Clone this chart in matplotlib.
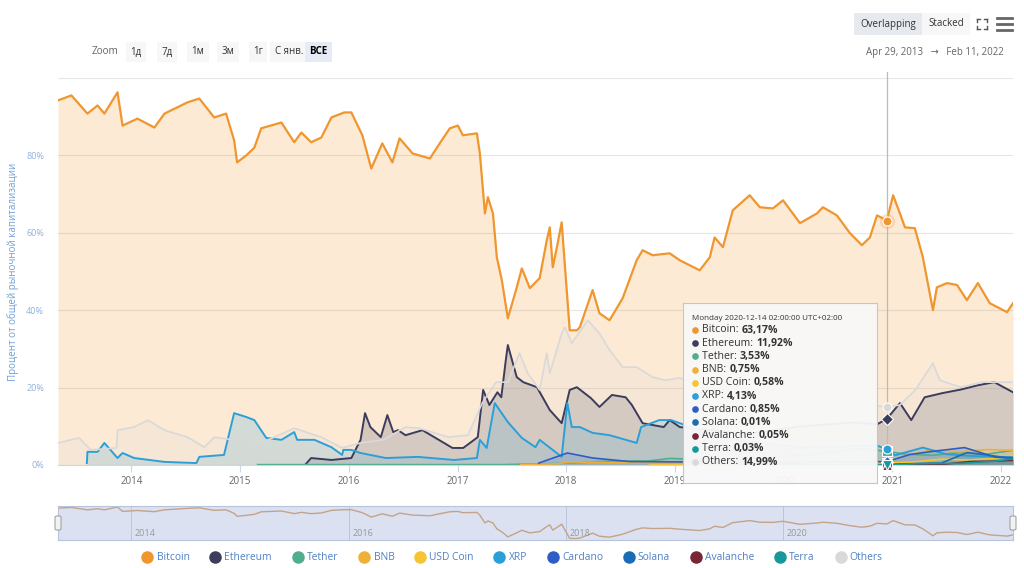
import matplotlib
matplotlib.use('Agg')
import matplotlib.pyplot as plt
import matplotlib.dates as mdates
from matplotlib.lines import Line2D
from matplotlib.patches import FancyBboxPatch
import pandas as pd

plt.rcParams['font.family'] = ['Open Sans', 'DejaVu Sans']

# ---- data (share of total market cap, %) ----
btc_dates = ['2013-04-29', '2013-06-13', '2013-08-06', '2013-09-09', '2013-10-02', '2013-11-15',
             '2013-12-02', '2014-01-21', '2014-03-19', '2014-04-22', '2014-07-08', '2014-08-17',
             '2014-10-06', '2014-11-15', '2014-12-12', '2014-12-22', '2015-01-22', '2015-02-18',
             '2015-03-13', '2015-05-20', '2015-07-02', '2015-07-26', '2015-08-28', '2015-10-01',
             '2015-11-04', '2015-12-17', '2016-01-10', '2016-02-16', '2016-03-17', '2016-04-23',
             '2016-05-27', '2016-06-20', '2016-08-03', '2016-09-30', '2016-11-02', '2016-12-06',
             '2017-01-02', '2017-01-19', '2017-03-07', '2017-03-17', '2017-04-03', '2017-04-13',
             '2017-04-30', '2017-05-13', '2017-05-30', '2017-06-19', '2017-07-19', '2017-08-05',
             '2017-09-01', '2017-10-04', '2017-10-28', '2017-11-07', '2017-11-17', '2017-12-01',
             '2017-12-17', '2018-01-13', '2018-02-06', '2018-02-16', '2018-03-31', '2018-04-23',
             '2018-05-27', '2018-07-10', '2018-08-26', '2018-09-15', '2018-10-19', '2018-12-15',
             '2019-01-18', '2019-03-26', '2019-04-29', '2019-05-15', '2019-06-12', '2019-07-15',
             '2019-09-10', '2019-10-14', '2019-11-27', '2019-12-31', '2020-02-26', '2020-04-23',
             '2020-05-13', '2020-06-29', '2020-08-12', '2020-09-21', '2020-10-18', '2020-11-11',
             '2020-12-14', '2021-01-04', '2021-01-27', '2021-02-13', '2021-03-18', '2021-04-14',
             '2021-05-18', '2021-05-31', '2021-07-04', '2021-08-07', '2021-09-09', '2021-10-16',
             '2021-11-25', '2022-01-22', '2022-02-11']
btc_vals = [94.2, 95.5, 90.8, 92.9, 90.8, 96.3,
            87.7, 89.5, 87.2, 90.8, 93.7, 94.7,
            89.8, 90.8, 83.9, 78.2, 80.0, 82.0,
            87.0, 88.5, 83.4, 85.9, 83.4, 84.6,
            89.8, 91.1, 91.1, 85.2, 76.6, 83.1,
            78.2, 84.4, 80.5, 79.2, 83.1, 87.0,
            87.7, 85.2, 85.7, 80.5, 65.0, 69.2,
            65.0, 53.7, 47.7, 37.9, 45.9, 50.8,
            45.7, 48.3, 58.1, 61.4, 51.1, 56.3,
            62.7, 34.8, 34.8, 35.6, 45.2, 39.2,
            37.4, 43.1, 52.9, 55.5, 54.2, 54.7,
            52.9, 50.3, 53.7, 58.8, 56.3, 65.8,
            69.7, 66.6, 66.3, 68.4, 62.5, 65.0,
            66.6, 64.5, 59.9, 56.8, 58.8, 64.5,
            63.17, 69.7, 65.0, 61.4, 61.2, 53.7,
            40.0, 45.9, 47.0, 46.5, 42.6, 47.0,
            41.8, 39.5, 41.8]

eth_dates = ['2015-08-07', '2015-08-28', '2015-11-04', '2016-01-10', '2016-02-10', '2016-02-25',
             '2016-03-14', '2016-04-18', '2016-05-10', '2016-05-30', '2016-06-15', '2016-07-10',
             '2016-09-05', '2016-12-15', '2017-01-20', '2017-03-10', '2017-03-28', '2017-04-18',
             '2017-05-15', '2017-05-28', '2017-06-12', '2017-06-19', '2017-07-19', '2017-08-10',
             '2017-09-25', '2017-11-07', '2017-12-17', '2018-01-13', '2018-02-06', '2018-03-25',
             '2018-04-23', '2018-06-04', '2018-07-20', '2018-08-10', '2018-09-15', '2018-11-25',
             '2018-12-15', '2019-01-18', '2019-05-01', '2019-09-01', '2020-03-01', '2020-09-01',
             '2020-11-11', '2020-12-14', '2021-01-27', '2021-03-06', '2021-04-20', '2021-06-20',
             '2021-08-20', '2021-10-16', '2021-12-10', '2022-02-11']
eth_vals = [0.0, 1.8, 1.3, 1.8, 6.5, 13.4,
            9.8, 7.2, 12.9, 8.5, 9.0, 7.7,
            9.0, 4.4, 4.4, 7.2, 19.4, 15.5,
            18.8, 17.5, 27.0, 31.0, 22.7, 21.4,
            20.1, 14.2, 10.8, 19.4, 20.1, 17.3,
            15.0, 18.1, 17.5, 15.5, 10.8, 9.8,
            11.6, 9.8, 9.0, 8.0, 10.0, 11.0,
            10.5, 11.92, 16.0, 11.6, 17.5, 18.6,
            19.5, 20.6, 21.4, 18.8]

oth_dates = ['2013-04-29', '2013-07-09', '2013-08-17', '2013-11-12', '2013-11-15', '2014-01-10',
             '2014-02-25', '2014-04-22', '2014-07-08', '2014-09-03', '2014-10-06', '2014-12-09',
             '2015-01-12', '2015-03-13', '2015-07-02', '2015-10-01', '2015-12-10', '2016-02-10',
             '2016-04-28', '2016-07-10', '2016-08-25', '2016-12-01', '2017-02-05', '2017-03-25',
             '2017-05-10', '2017-06-19', '2017-07-28', '2017-08-25', '2017-10-04', '2017-10-28',
             '2017-11-07', '2017-12-17', '2017-12-28', '2018-01-20', '2018-03-15', '2018-04-23',
             '2018-05-27', '2018-07-10', '2018-08-26', '2018-10-19', '2018-12-01', '2019-01-18',
             '2019-05-01', '2019-09-01', '2020-03-01', '2020-10-15', '2020-12-14', '2021-01-27',
             '2021-03-20', '2021-05-18', '2021-06-10', '2021-08-20', '2021-10-30', '2022-02-11']
oth_vals = [5.7, 7.0, 3.9, 4.4, 9.0, 9.8,
            11.6, 9.0, 7.2, 4.6, 7.2, 6.5,
            7.7, 5.7, 9.5, 7.2, 4.4, 5.7,
            6.5, 9.8, 9.5, 7.2, 7.7, 16.0,
            21.4, 21.4, 28.9, 23.7, 19.4, 28.9,
            23.7, 34.0, 35.6, 31.5, 37.4, 34.0,
            29.7, 25.3, 25.3, 22.7, 21.9, 22.5,
            19.0, 17.0, 16.0, 15.5, 14.99, 15.5,
            19.4, 26.3, 21.9, 20.1, 21.4, 21.4]

xrp_dates = ['2013-08-04', '2013-08-06', '2013-09-09', '2013-10-02', '2013-11-15', '2013-12-02',
             '2014-01-10', '2014-04-22', '2014-08-07', '2014-08-17', '2014-11-08', '2014-12-12',
             '2015-01-22', '2015-02-18', '2015-03-30', '2015-05-20', '2015-07-02', '2015-07-12',
             '2015-09-08', '2015-11-04', '2015-12-10', '2015-12-14', '2016-01-10', '2016-02-10',
             '2016-05-05', '2016-08-20', '2016-12-20', '2017-03-07', '2017-03-17', '2017-04-09',
             '2017-05-06', '2017-06-19', '2017-08-05', '2017-09-20', '2017-10-04', '2017-12-17',
             '2018-01-05', '2018-01-20', '2018-02-16', '2018-03-31', '2018-05-27', '2018-08-26',
             '2018-09-10', '2018-11-10', '2018-12-20', '2019-05-01', '2019-09-01', '2020-03-01',
             '2020-11-11', '2020-12-14', '2021-01-10', '2021-04-14', '2021-07-01', '2021-10-01',
             '2022-02-11']
xrp_vals = [0.5, 3.4, 3.4, 5.7, 1.8, 3.1,
            1.8, 0.8, 0.5, 2.1, 2.6, 13.4,
            12.4, 11.6, 7.0, 6.5, 8.5, 6.5,
            6.5, 4.6, 2.6, 3.9, 3.9, 3.1,
            1.8, 2.1, 1.3, 1.8, 6.5, 4.4,
            16.0, 11.1, 7.0, 4.6, 6.5, 2.1,
            16.0, 9.8, 9.8, 8.3, 7.7, 5.7,
            9.8, 11.6, 11.6, 8.0, 6.0, 4.5,
            5.0, 4.13, 2.5, 4.5, 2.8, 2.3,
            2.0]

usdt_dates = ['2015-03-01', '2016-06-01', '2017-06-01', '2017-12-01', '2018-02-01', '2018-06-01',
              '2018-10-01', '2018-12-15', '2019-03-01', '2019-06-01', '2019-12-01', '2020-03-15',
              '2020-06-15', '2020-09-15', '2020-12-14', '2021-02-15', '2021-05-15', '2021-08-15',
              '2021-11-15', '2022-02-11']
usdt_vals = [0.1, 0.1, 0.1, 0.4, 0.6, 1.0,
             1.0, 1.7, 1.5, 1.3, 2.1, 2.6,
             3.3, 4.3, 3.53, 2.8, 2.5, 3.2,
             2.8, 3.8]

bnb_dates = ['2017-08-01', '2017-12-01', '2018-01-15', '2018-06-01', '2019-01-15', '2019-06-15',
             '2019-12-15', '2020-06-15', '2020-12-14', '2021-02-20', '2021-05-10', '2021-08-15',
             '2021-11-15', '2022-02-11']
bnb_vals = [0.1, 0.3, 0.8, 0.6, 0.6, 1.3,
            1.1, 1.0, 0.75, 2.6, 3.8, 3.4,
            4.0, 3.8]

usdc_dates = ['2018-10-08', '2019-06-01', '2020-06-01', '2020-12-14', '2021-03-01', '2021-06-15',
              '2021-09-15', '2021-12-15', '2022-02-11']
usdc_vals = [0.01, 0.1, 0.3, 0.58, 0.7, 1.5,
             1.3, 1.7, 2.6]

ada_dates = ['2017-10-01', '2018-01-05', '2018-04-01', '2018-08-01', '2019-01-15', '2019-06-15',
             '2020-01-15', '2020-06-15', '2020-12-14', '2021-03-01', '2021-05-15', '2021-09-01',
             '2021-12-15', '2022-02-11']
ada_vals = [0.5, 3.1, 1.8, 0.9, 0.8, 0.9,
            0.5, 0.9, 0.85, 2.7, 3.5, 4.5,
            2.0, 1.9]

sol_dates = ['2020-04-10', '2020-10-15', '2020-12-14', '2021-02-15', '2021-06-15', '2021-09-10',
             '2021-11-15', '2022-02-11']
sol_vals = [0.01, 0.05, 0.01, 0.3, 0.5, 3.2,
            2.6, 1.6]

avax_dates = ['2020-09-22', '2020-12-14', '2021-02-15', '2021-06-15', '2021-09-20', '2021-12-15',
              '2022-02-11']
avax_vals = [0.05, 0.05, 0.2, 0.1, 0.9, 1.0,
             1.2]

luna_dates = ['2019-07-26', '2020-01-15', '2020-06-15', '2020-12-14', '2021-03-15', '2021-05-15',
              '2021-08-15', '2021-12-15', '2022-02-11']
luna_vals = [0.15, 0.1, 0.05, 0.03, 0.3, 0.4,
             0.4, 1.0, 1.6]

names = ['Bitcoin', 'Ethereum', 'Tether', 'BNB', 'USD Coin', 'XRP',
         'Cardano', 'Solana', 'Avalanche', 'Terra', 'Others']
colors = ['#f0962e', '#3c3c5c', '#4fae8c', '#efb036', '#f7c531', '#2b9fd8',
          '#2f5dc5', '#1a6db4', '#7a2533', '#16999a', '#d9d9d9']
all_dates = [btc_dates, eth_dates, usdt_dates, bnb_dates, usdc_dates, xrp_dates,
             ada_dates, sol_dates, avax_dates, luna_dates, oth_dates]
all_vals = [btc_vals, eth_vals, usdt_vals, bnb_vals, usdc_vals, xrp_vals,
            ada_vals, sol_vals, avax_vals, luna_vals, oth_vals]
line_w = [1.6, 1.4, 1.2, 1.2, 1.2, 1.4, 1.2, 1.2, 1.2, 1.2, 1.2]
symbols = ['o', 'D', 's', '^', 'v', 'o', 'D', 's', '^', 'v', 'o']

hover_date = '2020-12-14'
hover_title = 'Monday 2020-12-14 02:00:00 UTC+02:00'
hover_vals = ['63,17%', '11,92%', '3,53%', '0,75%', '0,58%', '4,13%',
              '0,85%', '0,01%', '0,05%', '0,03%', '14,99%']

start, end = pd.Timestamp('2013-04-29'), pd.Timestamp('2022-02-11')

# ---- figure ----
W, H = 1024, 568
fig = plt.figure(figsize=(W / 100, H / 100), dpi=100)


def fx(px):
    return px / W


def fy(py):
    return 1 - py / H


ax = fig.add_axes([fx(58), fy(465), fx(955), 387 / H])
for nm, c, d, v, lw in zip(names, colors, all_dates, all_vals, line_w):
    d = pd.to_datetime(d)
    ax.fill_between(d, v, 0, color=c, alpha=0.2, lw=0)
    ax.plot(d, v, color=c, lw=lw, solid_joinstyle='round')

ax.set_xlim(start, end)
ax.set_ylim(0, 100)
ax.set_yticks([0, 20, 40, 60, 80, 100])
ax.set_yticklabels(['0%', '20%', '40%', '60%', '80%', ''])
ax.grid(axis='y', color='#e6e6e6', lw=0.8)
ax.set_axisbelow(True)
ax.tick_params(axis='y', length=0, pad=10, labelsize=6.5, labelcolor='#8fb1d9')
ax.xaxis.set_major_locator(mdates.YearLocator())
ax.xaxis.set_major_formatter(mdates.DateFormatter('%Y'))
ax.tick_params(axis='x', length=5, color='#ccd6eb', pad=3, labelsize=7, labelcolor='#666666')
for s in ['top', 'right', 'left']:
    ax.spines[s].set_visible(False)
ax.spines['bottom'].set_color('#ccd6eb')
ax.set_ylabel('Процент от общей рыночной капитализации', fontsize=7, color='#6e9fd6', labelpad=5)

# crosshair + hover markers
hd = pd.Timestamp(hover_date)
ax.plot([hd, hd], [0, 101.5], color='#bbbbbb', lw=0.9, clip_on=False, zorder=5)
for c, d, v, m in zip(colors, all_dates, all_vals, symbols):
    yv = v[list(d).index(hover_date)]
    ax.plot([hd], [yv], marker=m, ms=6.5, color=c, mec='white', mew=0.8, zorder=6, clip_on=False)
ax.plot([hd], [btc_vals[btc_dates.index(hover_date)]], marker='o', ms=11, color=colors[0],
        alpha=0.25, mew=0, zorder=5)

# ---- tooltip ----
tip = fig.add_axes([fx(683), fy(483), fx(194), 180 / H], zorder=10)
tip.set_xlim(0, 1)
tip.set_ylim(0, 1)
tip.set_xticks([])
tip.set_yticks([])
tip.set_facecolor('#f8f8f8')
for s in tip.spines.values():
    s.set_color('#c6c6c6')
    s.set_linewidth(0.8)
tip.patch.set_alpha(0.96)
tip.text(0.045, 0.915, hover_title, fontsize=5.8, color='#333333', va='center')
for i, (nm, c, hv) in enumerate(zip(names, colors, hover_vals)):
    yy = (483 - (330 + i * 13.2)) / 180
    tip.plot([0.06], [yy], marker='o', ms=4.8, color=c, mew=0)
    t = tip.text(0.1, yy, nm + ': ', fontsize=7.6, color='#333333', va='center')
    tip.annotate(hv, xy=(1, 0.5), xycoords=t, va='center', ha='left',
                 fontsize=7.6, color='#333333', fontweight='bold')

# ---- navigator ----
nav = fig.add_axes([fx(58), fy(540), fx(955), 34 / H])
nav.set_facecolor('#dbe1f1')
nav.plot(pd.to_datetime(btc_dates), btc_vals, color='#c4a389', lw=1)
nav.set_xlim(start, end)
nav.set_ylim(min(btc_vals) - 3, max(btc_vals) + 2)
nav.set_yticks([])
nav.set_xticks(pd.to_datetime(['2014-01-01', '2016-01-01', '2018-01-01', '2020-01-01']))
nav.set_xticklabels([])
nav.tick_params(axis='x', length=0)
nav.grid(axis='x', color='#bcc5de', lw=0.7)
for s in nav.spines.values():
    s.set_color('#b8c3dc')
    s.set_linewidth(0.8)
for yr in ['2014', '2016', '2018', '2020']:
    nav.text(pd.Timestamp(yr + '-01-01') + pd.Timedelta(days=12), 0.2, yr,
             transform=nav.get_xaxis_transform(), fontsize=6.5, color='#999999', va='center')
for hx in [58, 1013]:
    fig.patches.append(FancyBboxPatch((fx(hx - 3), fy(530)), fx(6), 14 / H,
                                      boxstyle='round,pad=0,rounding_size=0.002',
                                      transform=fig.transFigure, fc='#f2f2f2', ec='#999999', lw=0.7))

# ---- legend ----
handles = [Line2D([], [], ls='none', marker='o', ms=8, color=c) for c in colors]
fig.legend(handles, names, loc='center', bbox_to_anchor=(0.5, fy(558)), ncol=11, frameon=False,
           fontsize=7.4, handletextpad=0.3, columnspacing=1.9, labelcolor='#4f80c4',
           handlelength=1.2)

# ---- range selector / toolbar ----
fig.text(fx(105), fy(52), 'Zoom', fontsize=7.2, color='#666666', ha='center', va='center')
btns = ['1д', '7д', '1м', '3м', '1г', 'С янв.', 'ВСЕ']
btn_x = [136, 167, 198, 228, 258, 289, 318]
for b, bx in zip(btns, btn_x):
    sel = b == 'ВСЕ'
    fig.text(fx(bx), fy(52), b, fontsize=7, ha='center', va='center',
             color='#000000' if sel else '#333333', fontweight='bold' if sel else 'normal',
             bbox=dict(boxstyle='square,pad=0.45', fc='#e6ebf5' if sel else '#f7f7f7', ec='none'))

fig.text(fx(888), fy(24), 'Overlapping', fontsize=7, color='#333333', ha='center', va='center',
         bbox=dict(boxstyle='square,pad=0.6', fc='#e6e9ee', ec='none'))
fig.text(fx(946), fy(24), 'Stacked', fontsize=7, color='#333333', ha='center', va='center',
         bbox=dict(boxstyle='square,pad=0.6', fc='#f7f7f7', ec='none'))
fig.text(fx(935), fy(52), 'Apr 29, 2013   →   Feb 11, 2022', fontsize=7, color='#666666',
         ha='center', va='center')

# fullscreen icon
cx, cy = 982, 24
for sx, sy in [(-1, -1), (1, -1), (-1, 1), (1, 1)]:
    x0, y0 = cx + sx * 5, cy + sy * 5
    fig.lines.append(Line2D([fx(x0), fx(x0 - sx * 3)], [fy(y0), fy(y0)], transform=fig.transFigure,
                            color='#555555', lw=1))
    fig.lines.append(Line2D([fx(x0), fx(x0)], [fy(y0), fy(y0 - sy * 3)], transform=fig.transFigure,
                            color='#555555', lw=1))
# menu icon
for yy in [18, 24, 30]:
    fig.lines.append(Line2D([fx(997), fx(1012)], [fy(yy), fy(yy)], transform=fig.transFigure,
                            color='#666666', lw=2))

fig.savefig('out.png', dpi=100)
